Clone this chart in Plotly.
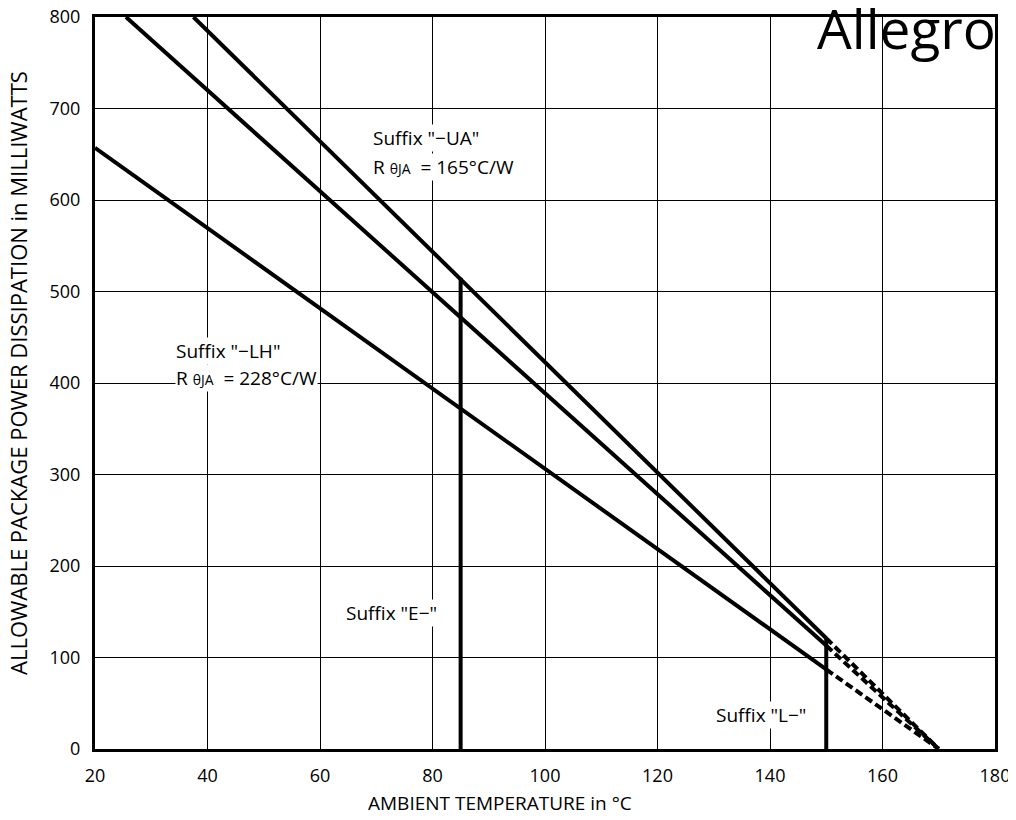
import plotly.graph_objects as go

# Data
lh_T = [20, 150]
lh_P = [657, 87]
mid_T = [25.5, 150]
mid_P = [800, 113]
ua_T = [37.5, 150]
ua_P = [800, 121]
dash_T = [150, 170]
lh_dash_P = [87, 0]
mid_dash_P = [113, 0]
ua_dash_P = [121, 0]
e_T = [85, 85]
e_P = [0, 515]
l_T = [150, 150]
l_P = [0, 121]

x_ticks = [20, 40, 60, 80, 100, 120, 140, 160, 180]
y_ticks = [0, 100, 200, 300, 400, 500, 600, 700, 800]

FONT = "Open Sans"
W, H = 1008, 812
ML, MR, MT, MB = 87, 21, 9, 71
fig = go.Figure()

solid = dict(color="black", width=4)

for xs, ys in [(lh_T, lh_P), (mid_T, mid_P), (ua_T, ua_P)]:
    fig.add_trace(go.Scatter(x=xs, y=ys, mode="lines", line=solid, hoverinfo="skip"))
for ys in [lh_dash_P, mid_dash_P, ua_dash_P]:
    fig.add_trace(go.Scatter(x=dash_T, y=ys, mode="lines",
                             line=dict(color="black", width=4, dash="8px,4px"), hoverinfo="skip"))
fig.add_trace(go.Scatter(x=e_T, y=e_P, mode="lines", line=solid, hoverinfo="skip"))
fig.add_trace(go.Scatter(x=l_T, y=l_P, mode="lines", line=solid, hoverinfo="skip"))

sub = "<span style='font-size:14px'>θJA</span>"
ann = [
    (69.2, 668, 'Suffix "−UA"'),
    (69.2, 636, "R " + sub + "  = 165°C/W"),
    (34.3, 435, 'Suffix "−LH"'),
    (34.3, 405, "R " + sub + "  = 228°C/W"),
    (64.5, 149, 'Suffix "E−"'),
    (130.3, 37, 'Suffix "L−"'),
]
for x, y, t in ann:
    fig.add_annotation(x=x, y=y, text=t, showarrow=False, xanchor="left", yanchor="middle",
                       bgcolor="white", borderpad=0,
                       font=dict(family=FONT, size=19, color="black"))

pw = W - ML - MR
ph = H - MT - MB

# Logo text
fig.add_annotation(xref="paper", yref="paper", x=(990 - ML) / pw, y=1.0, yshift=29, text="Allegro",
                   showarrow=False, xanchor="right", yanchor="top",
                   font=dict(family=FONT, size=55, color="black"))

# Axis titles
fig.add_annotation(xref="paper", yref="paper", x=(492 - ML) / pw, y=0, yshift=-54,
                   text="AMBIENT TEMPERATURE in °C", showarrow=False, xanchor="center", yanchor="middle",
                   font=dict(family=FONT, size=19, color="black"))
fig.add_annotation(xref="paper", yref="paper", x=0, xshift=-77, y=1 - (365 - MT) / ph,
                   text="ALLOWABLE PACKAGE POWER DISSIPATION in MILLIWATTS", textangle=-90,
                   showarrow=False, xanchor="center", yanchor="middle",
                   font=dict(family=FONT, size=22, color="black"))

fig.update_layout(
    width=W, height=H,
    margin=dict(l=ML, r=MR, t=MT, b=MB),
    paper_bgcolor="white", plot_bgcolor="white",
    showlegend=False,
    font=dict(family=FONT, size=19, color="black"),
    xaxis=dict(range=[20, 180], tickvals=x_ticks, showgrid=True, gridcolor="black", gridwidth=1,
               showline=True, linecolor="black", linewidth=3, mirror=True, zeroline=False,
               ticks="", ticklen=0, automargin=False, ticklabelstandoff=8,
               ticklabeloverflow="allow", tickfont=dict(family=FONT, size=18)),
    yaxis=dict(range=[0, 800], tickvals=y_ticks, showgrid=True, gridcolor="black", gridwidth=1,
               showline=True, linecolor="black", linewidth=3, mirror=True, zeroline=False,
               ticks="", ticklen=0, automargin=False, ticklabelstandoff=8,
               ticklabeloverflow="allow", tickfont=dict(family=FONT, size=18)),
)

fig.write_html("out.html")
